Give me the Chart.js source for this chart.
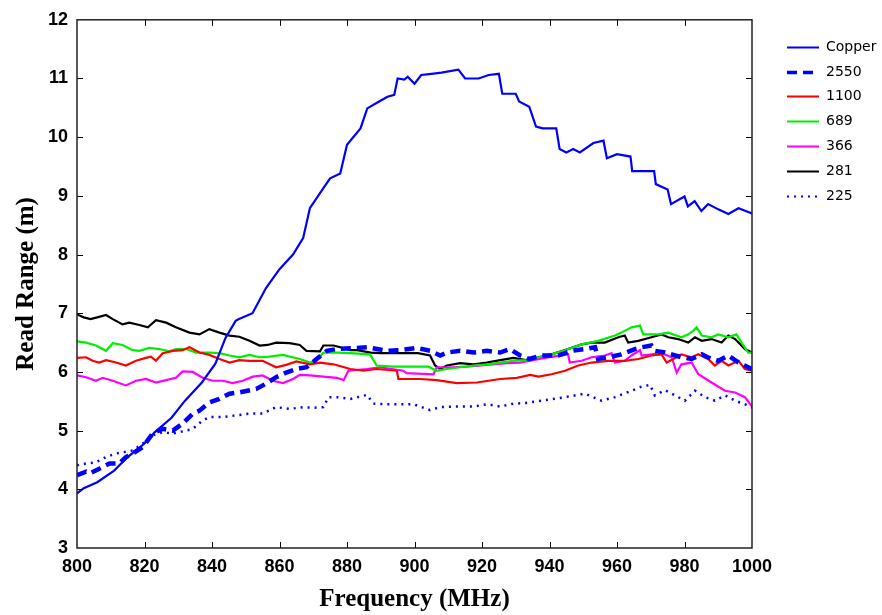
<!DOCTYPE html>
<html>
<head>
<meta charset="utf-8">
<script src="https://cdn.jsdelivr.net/npm/chart.js@4.4.1/dist/chart.umd.min.js"></script>
<style>
  html, body { margin: 0; padding: 0; background: #fff; }
  #wrap { width: 882px; height: 615px; }
</style>
</head>
<body>
<div id="wrap"><canvas id="chart_1" width="882" height="615"></canvas></div>
<script>
// series labels, in legend order
var seriesNames = ["Copper", "2550", "1100", "689", "366", "281", "225"];
var xTicks = [800, 820, 840, 860, 880, 900, 920, 940, 960, 980, 1000];
var yTicks = [3, 4, 5, 6, 7, 8, 9, 10, 11, 12];

// values (frequency MHz / read range m)
var copperFreq = [800,802,806,811,815,820,823,828,832,837,841,844,847,848,852,856,860,864,867,869,871,873,875,878,880,884,886,889,892,894,895,897,898,900,902,905,908,913,915,919,922,925,926,930,931,934,936,938,942,943,945,947,949,953,956,957,960,964,964.5,971,971.5,975,976,980,981,983,985,987,990,993,996,1000];
var copperRange = [3.93,4.02,4.12,4.32,4.55,4.78,4.97,5.22,5.51,5.82,6.14,6.58,6.87,6.9,7.0,7.43,7.75,8.0,8.28,8.79,8.96,9.13,9.3,9.38,9.87,10.15,10.49,10.59,10.69,10.72,11.0,10.98,11.03,10.91,11.06,11.08,11.1,11.15,11.0,11.0,11.06,11.08,10.74,10.74,10.61,10.52,10.18,10.15,10.15,9.8,9.74,9.8,9.74,9.9,9.94,9.64,9.71,9.67,9.42,9.42,9.2,9.11,8.86,8.99,8.82,8.91,8.74,8.86,8.77,8.69,8.79,8.7];

var t2550Freq = [800,802.7,803.7,806.6,809.6,812.5,814.5,816.5,819.5,822.4,825.4,828.4,831.3,834.3,836.3,839.2,842.2,845.2,848.1,853.1,856,859,862,865,868,871,874,877,886,891.8,895.7,900.7,904.6,907.6,909.6,913.5,917.5,921.4,925.4,928.3,931.3,934,937.6,942.6,946.5,950.5,953.5,954.4,957.4,961.3,965.3,967.3,970.2,971.2,974.2,976.2,979.1,982.1,985.1,988,990,993,996,998.9,1000];
var t2550Range = [4.24,4.3,4.27,4.35,4.44,4.44,4.55,4.61,4.72,4.95,5.03,5.0,5.12,5.29,5.34,5.48,5.54,5.63,5.65,5.71,5.8,5.91,5.99,6.05,6.08,6.22,6.36,6.39,6.42,6.36,6.37,6.41,6.36,6.28,6.33,6.36,6.33,6.36,6.33,6.39,6.28,6.22,6.28,6.28,6.36,6.39,6.42,6.22,6.25,6.3,6.39,6.42,6.45,6.36,6.33,6.3,6.25,6.22,6.3,6.22,6.19,6.28,6.16,6.08,6.05];

var t1100Freq = [800,802.7,804.6,806.6,808.6,811.6,814.5,817.5,820.4,821.9,823.4,825.4,828.4,831.3,833.3,836.3,839.2,842.2,845.2,848.1,851.1,855,859,862,865,869,872,876,881,884.9,888.8,894.8,895.2,901.7,906.6,912.5,918.5,925.4,930.3,934.3,936.7,940.6,944.6,948.5,952.5,957.4,962.3,966.3,970.2,973.2,974.7,976.7,979.1,982.1,984.1,987,989,991,993,996,997.9,1000];
var t1100Range = [6.24,6.25,6.19,6.16,6.2,6.16,6.11,6.19,6.24,6.26,6.19,6.32,6.36,6.37,6.42,6.33,6.29,6.22,6.16,6.2,6.19,6.19,6.08,6.12,6.18,6.13,6.16,6.13,6.05,6.02,6.05,6.02,5.88,5.88,5.86,5.81,5.82,5.88,5.9,5.95,5.92,5.96,6.02,6.11,6.16,6.19,6.19,6.22,6.28,6.3,6.16,6.22,6.3,6.25,6.3,6.22,6.11,6.19,6.11,6.19,6.05,6.02];

var t689Freq = [800,802.7,805.6,808.6,810.6,813.5,816.5,818.5,821.4,824.4,827.4,829.3,832.3,835.3,839.2,842.2,845.2,848.1,851.1,854.1,857,861,866,869,871,873,877,881,886.8,888.8,893.8,898.7,904.1,906.6,909.6,913.5,917.5,921.4,925.4,929.3,933,936.7,940.6,944.6,949.5,954.4,959.4,961.3,964.3,966.8,967.8,970.2,972.2,975.2,979.1,981.1,982.6,983.6,985.1,988,990,993,995.4,996.9,998.9,1000];
var t689Range = [6.52,6.5,6.45,6.36,6.49,6.46,6.37,6.36,6.41,6.39,6.35,6.39,6.39,6.33,6.33,6.32,6.28,6.25,6.29,6.25,6.26,6.29,6.22,6.16,6.19,6.33,6.33,6.32,6.3,6.11,6.09,6.09,6.09,6.02,6.05,6.08,6.11,6.13,6.16,6.19,6.2,6.25,6.3,6.37,6.47,6.53,6.62,6.67,6.76,6.79,6.64,6.64,6.64,6.67,6.59,6.64,6.7,6.76,6.62,6.59,6.64,6.59,6.64,6.5,6.33,6.33];

var t366Freq = [800,802.7,805.6,807.6,810.6,814.5,817.5,820.4,823.4,826.4,829.3,831.3,834.3,837.2,840.2,843.2,846.1,849.1,852.1,855,858,861,864,866,869,873,877,879,880.4,885.9,889.8,896.7,897.7,905.6,906.6,911.5,915.5,921.4,927.4,931.3,934.3,938.6,945.5,946,949.5,952.5,956.4,958.4,959.4,962.3,964.3,966.8,967.3,970.2,973.2,976.2,977.7,979.1,982.1,984.1,988,992,995,997.9,1000];
var t366Range = [5.94,5.91,5.85,5.9,5.85,5.77,5.85,5.88,5.82,5.86,5.9,6.01,6.0,5.9,5.85,5.85,5.81,5.85,5.92,5.94,5.85,5.81,5.88,5.95,5.94,5.92,5.9,5.86,6.02,6.05,6.08,6.02,5.98,5.96,6.08,6.08,6.09,6.12,6.15,6.16,6.19,6.24,6.3,6.16,6.19,6.25,6.28,6.32,6.16,6.19,6.28,6.37,6.28,6.3,6.32,6.25,5.99,6.13,6.16,5.96,5.82,5.68,5.65,5.57,5.41];

var t281Freq = [800,802,804,806,808.6,810.6,813.5,815.5,818.5,821,823.4,826.4,829.3,833.3,836.3,839.2,842.2,845.2,848.1,851.1,854.1,856.5,859,863,866,868,872,873,876,878,881,883,887,890,896,901,904.6,906.1,907.6,909.6,913.5,917.5,921.4,925.4,929.3,933,936.7,940.6,945.5,949.5,952.5,956.4,960.4,962.3,963.3,966.3,970.2,973.2,975.2,978.1,981.1,983.1,985.1,988,991,993,995,997.9,1000];
var t281Range = [6.98,6.93,6.9,6.93,6.97,6.9,6.81,6.84,6.8,6.76,6.88,6.84,6.76,6.67,6.64,6.73,6.67,6.62,6.6,6.53,6.45,6.46,6.5,6.49,6.46,6.36,6.35,6.45,6.45,6.42,6.37,6.37,6.33,6.32,6.32,6.32,6.28,6.11,6.05,6.11,6.15,6.13,6.16,6.2,6.24,6.2,6.25,6.3,6.39,6.47,6.5,6.5,6.59,6.62,6.5,6.53,6.59,6.64,6.59,6.56,6.5,6.59,6.53,6.56,6.5,6.62,6.56,6.39,6.33];

var t225Freq = [800,802.7,805.6,808.6,811.6,813.5,816.5,819.5,822.4,825.4,828.4,832.3,834.3,837.2,839.2,843.2,847.2,851.1,855,859,863,867,870,873,874.5,877,881,883.9,885.9,887.8,891.8,895.7,899.7,904.6,907.6,912.5,917.5,921.4,925.4,929.3,933,938.6,944.6,950.5,955.4,959.4,964.3,967.3,969.8,971.2,974.2,977.2,980.1,983.1,986.1,989,992,995,997.9,1000];
var t225Range = [4.41,4.44,4.46,4.55,4.61,4.63,4.66,4.78,4.92,4.97,4.95,5.0,5.03,5.17,5.23,5.23,5.26,5.29,5.29,5.4,5.37,5.4,5.39,5.4,5.57,5.57,5.54,5.58,5.61,5.46,5.45,5.45,5.45,5.35,5.4,5.41,5.41,5.45,5.41,5.46,5.47,5.52,5.57,5.63,5.51,5.57,5.68,5.75,5.78,5.6,5.69,5.6,5.51,5.68,5.57,5.51,5.6,5.51,5.45,5.39];

function pts(xs, ys) {
	var out = [];
	for (var i = 0; i < xs.length; i++) out.push({ x : xs[i], y : ys[i] });
	return out;
}

function line(label, xs, ys, color, width, dash) {
	return {
		label : label,
		data : pts(xs, ys),
		borderColor : color,
		backgroundColor : color,
		borderWidth : width,
		borderDash : dash,
		pointRadius : 0,
		pointStyle : 'line',
		tension : 0,
		fill : false
	};
}

var data = {
	datasets : [
		line(seriesNames[0], copperFreq, copperRange, "#0000ff", 2.2, []),
		line(seriesNames[1], t2550Freq, t2550Range, "#0000ff", 4.5, [10, 6]),
		line(seriesNames[2], t1100Freq, t1100Range, "#ff0000", 2.2, []),
		line(seriesNames[3], t689Freq, t689Range, "#00ee00", 2.2, []),
		line(seriesNames[4], t366Freq, t366Range, "#ff00ff", 2.2, []),
		line(seriesNames[5], t281Freq, t281Range, "#000000", 2.2, []),
		line(seriesNames[6], t225Freq, t225Range, "#0000ff", 2.5, [2, 5])
	]
};

// ticks pointing inward on all four sides, plus the frame
var boxTicks = {
	id : 'boxTicks',
	afterDatasetsDraw : function(chart) {
		var ctx = chart.ctx, a = chart.chartArea;
		var xs = chart.scales.x, ys = chart.scales.y;
		ctx.save();
		ctx.strokeStyle = "#000";
		ctx.lineWidth = 1;
		ctx.beginPath();
		xTicks.slice(1, -1).forEach(function(v) {
			var px = Math.round(xs.getPixelForValue(v)) + 0.5;
			ctx.moveTo(px, a.bottom); ctx.lineTo(px, a.bottom - 6);
			ctx.moveTo(px, a.top); ctx.lineTo(px, a.top + 6);
		});
		yTicks.slice(1, -1).forEach(function(v) {
			var py = Math.round(ys.getPixelForValue(v)) + 0.5;
			ctx.moveTo(a.left, py); ctx.lineTo(a.left + 6, py);
			ctx.moveTo(a.right, py); ctx.lineTo(a.right - 6, py);
		});
		ctx.stroke();
		ctx.strokeStyle = "#222";
		ctx.lineWidth = 1.5;
		ctx.strokeRect(a.left, a.top, a.right - a.left, a.bottom - a.top);
		ctx.restore();
	}
};

// legend to the right of the frame
var sideLegend = {
	id : 'sideLegend',
	afterDraw : function(chart) {
		var ctx = chart.ctx, a = chart.chartArea;
		var x0 = a.right + 35, y0 = a.top + 27;
		ctx.save();
		ctx.font = "14px 'DejaVu Sans', sans-serif";
		ctx.textBaseline = "middle";
		chart.data.datasets.forEach(function(ds, i) {
			var y = Math.round(y0 + i * 24.8) + 0.5;
			ctx.strokeStyle = ds.borderColor;
			ctx.lineWidth = ds.borderWidth > 3 ? 3.5 : 2;
			ctx.setLineDash(ds.borderDash);
			ctx.beginPath();
			ctx.moveTo(x0, y);
			ctx.lineTo(x0 + 32, y);
			ctx.stroke();
			ctx.setLineDash([]);
			ctx.fillStyle = "#000";
			ctx.fillText(ds.label, x0 + 39, y);
		});
		ctx.restore();
	}
};

var tickFont = { family : "'Liberation Sans', Arial, sans-serif", size : 18, weight : 'bold' };
var titleFont = { family : "'Liberation Serif', 'Times New Roman', serif", size : 25, weight : 'bold' };

function plainLabel(v) { return String(v); }

var option = {
	responsive : false,
	animation : false,
	layout : { padding : { left : 0, top : 18, right : 130, bottom : 0 } },
	plugins : {
		legend : { display : false },
		tooltip : { enabled : false }
	},
	scales : {
		x : {
			type : 'linear',
			min : 800,
			max : 1000,
			afterFit : function(s) { s.height = 67; },
			afterBuildTicks : function(s) { s.ticks = xTicks.map(function(v) { return { value : v }; }); },
			grid : { display : false, drawTicks : false },
			border : { display : false },
			ticks : { color : "#000", font : tickFont, padding : 8, maxRotation : 0, callback : plainLabel },
			title : { display : true, text : "Frequency (MHz)", color : "#000", font : titleFont, padding : { top : 0, bottom : 0 } }
		},
		y : {
			type : 'linear',
			min : 3,
			max : 12,
			afterFit : function(s) { s.width = 77; },
			afterBuildTicks : function(s) { s.ticks = yTicks.map(function(v) { return { value : v }; }); },
			grid : { display : false, drawTicks : false },
			border : { display : false },
			ticks : { color : "#000", font : tickFont, padding : 9, callback : plainLabel },
			title : { display : true, text : "Read Range (m)", color : "#000", font : titleFont, padding : { top : 12, bottom : 0 } }
		}
	}
};

var chart1 = new Chart('chart_1', {
	type : 'line',
	data : data,
	options : option,
	plugins : [boxTicks, sideLegend]
});
</script>
</body>
</html>
